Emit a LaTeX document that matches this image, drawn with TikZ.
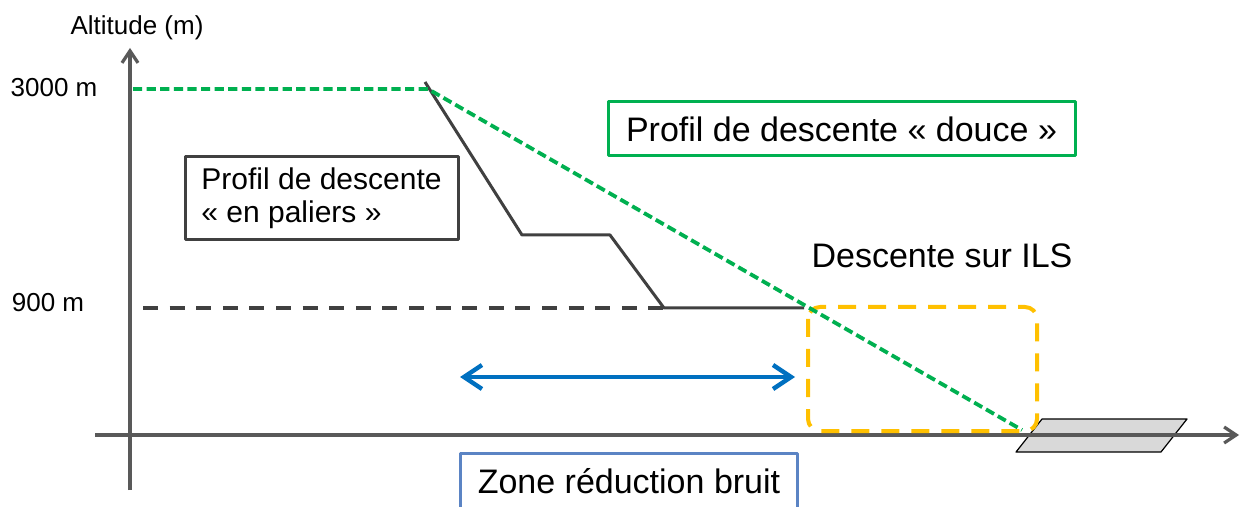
\documentclass[tikz,border=0pt]{standalone}
\usepackage{fontspec}
\setmainfont{Liberation Sans}
\usetikzlibrary{arrows.meta}
\definecolor{gris}{HTML}{595959}
\definecolor{profil}{HTML}{404040}
\definecolor{vert}{HTML}{00B050}
\definecolor{jaune}{HTML}{FFC000}
\definecolor{bleu}{HTML}{0070C0}
\definecolor{cadrebleu}{HTML}{5B84C4}
\definecolor{piste}{HTML}{D9D9D9}
\begin{document}
\begin{tikzpicture}[x=0.5pt, y=0.5pt, line join=round,
 axe/.style={draw=gris, line width=1.6pt, -{Straight Barb[length=6pt,width=8pt]}},
 douce/.style={draw=vert, line width=1.9pt, dash pattern=on 4.6pt off 2.2pt},
 palier/.style={draw=profil, line width=1.5pt},
 niveau/.style={draw=profil, line width=1.9pt, dash pattern=on 7.5pt off 5.8pt},
 approche/.style={draw=jaune, line width=2pt, dash pattern=on 9pt off 6pt, rounded corners=6pt},
 bruit/.style={draw=bleu, line width=2.2pt, line cap=round, {Straight Barb[length=9pt,width=12pt]}-{Straight Barb[length=9pt,width=12pt]}},
 petit/.style={font=\fontsize{13}{15}\selectfont, inner sep=0pt},
 texte/.style={font=\fontsize{17}{20}\selectfont, inner sep=0pt},
 cadre/.style={texte, line width=1.5pt}]
 \useasboundingbox (0,0) rectangle (1241,-507);
 \clip (0,0) rectangle (1241,-507);
 % axes
 \coordinate (ybas) at (130,-490);
 \coordinate (yhaut) at (130,-48);
 \coordinate (xdeb) at (95,-435);
 \coordinate (xfin) at (1239,-435);
 \node[petit] (altitude) at (137,-28) {Altitude (m)};
 \node[petit] (h3000) at (54,-88) {3000 m};
 \node[petit] (h900) at (48,-303) {900 m};
 % piste
 \filldraw[fill=piste, draw=black, line width=0.6pt] (1016,-452) -- (1042,-419) -- (1187,-419) -- (1161,-452) -- cycle;
 \draw[axe] (ybas) -- (yhaut);
 \draw[axe] (xdeb) -- (xfin);
 % zone ILS
 \draw[approche] (808,-307) rectangle (1037,-431);
 % profils
 \coordinate (g1) at (133,-89);
 \coordinate (g2) at (428,-89);
 \coordinate (g3) at (1022,-430);
 \coordinate (p1) at (425,-82);
 \coordinate (p2) at (522,-235);
 \coordinate (p3) at (610,-235);
 \coordinate (p4) at (664,-308);
 \coordinate (p5) at (804,-308);
 \coordinate (n1) at (143,-308);
 \draw[niveau] (n1) -- (p4);
 \draw[palier] (p1) -- (p2) -- (p3) -- (p4) -- (p5);
 \draw[douce] (g1) -- (g2) -- (g3);
 \coordinate (a1) at (460,-377);
 \coordinate (a2) at (795,-377);
 \draw[bruit] (a1) -- (a2);
 % textes
 \node[cadre, draw=profil, minimum width=136.5pt, minimum height=41.5pt, align=left, font=\fontsize{15}{16.5}\selectfont] (paliers) at (321.5,-198.5) {Profil de descente\\« en paliers »};
 \node[cadre, draw=vert, minimum width=233.5pt, minimum height=27pt] (pdouce) at (841.5,-129) {Profil de descente « douce »};
 \node[texte] (ils) at (942,-256) {Descente sur ILS};
 \node[cadre, draw=cadrebleu, minimum width=168.5pt, minimum height=28pt] (zonebruit) at (629,-481) {Zone réduction bruit};
\end{tikzpicture}
\end{document}
